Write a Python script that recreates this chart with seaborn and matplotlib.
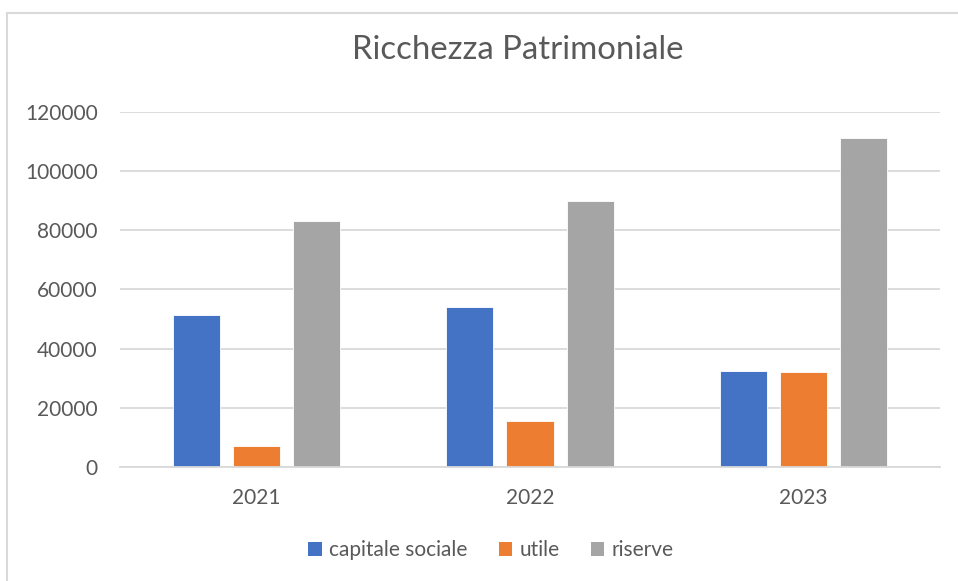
import matplotlib
matplotlib.use("Agg")
import matplotlib.pyplot as plt
import pandas as pd
import seaborn as sns
from matplotlib.lines import Line2D
from matplotlib.patches import Patch

years = ["2021", "2022", "2023"]
series = ["capitale sociale", "utile", "riserve"]
capitale_sociale = [51400, 54000, 32500]
utile = [7100, 15600, 32200]
riserve = [83200, 90100, 111200]
colors = ["#4472C4", "#ED7D31", "#A5A5A5"]

df = pd.DataFrame({
    "anno": years * 3,
    "serie": [s for s in series for _ in years],
    "valore": capitale_sociale + utile + riserve,
})

sns.set_theme(style="white")
plt.rcParams["font.family"] = ["Lato", "DejaVu Sans"]

W, H = 958, 581
fig = plt.figure(figsize=(W / 100, H / 100), dpi=100)
ax = fig.add_axes([120 / W, 1 - 466.7 / H, 820 / W, 354.4 / H])

sns.barplot(data=df, x="anno", y="valore", hue="serie", palette=colors,
            width=0.66, gap=0.218, ax=ax, legend=False, saturation=1,
            edgecolor="white", linewidth=0.6)

ax.set_ylim(0, 120000)
ax.set_xlim(-0.5, 2.5)
ax.set_yticks(range(0, 120001, 20000))
ax.yaxis.grid(True, color="#D9D9D9", linewidth=1.3)
ax.set_axisbelow(True)
for s in ["left", "right", "top"]:
    ax.spines[s].set_visible(False)
ax.spines["bottom"].set_color("#D9D9D9")
ax.spines["bottom"].set_linewidth(1.3)
ax.set_xlabel("")
ax.set_ylabel("")
ax.tick_params(axis="both", length=0, labelsize=15, labelcolor="#595959")
ax.tick_params(axis="y", pad=16)
ax.tick_params(axis="x", pad=15)

fig.text(517.5 / W, 1 - 50 / H, "Ricchezza Patrimoniale", ha="center", va="center",
         fontsize=23.7, color="#595959")

handles = [Patch(facecolor=c, edgecolor="none") for c in colors]
fig.legend(handles, series, loc="center", bbox_to_anchor=(491 / W, 1 - 550 / H),
           ncol=3, frameon=False, fontsize=15, labelcolor="#595959",
           handlelength=0.65, handleheight=0.65, handletextpad=0.35,
           columnspacing=1.5)

# chart frame (only top and left edges visible)
fig.add_artist(Line2D([7 / W, 7 / W], [0, 1 - 13 / H], transform=fig.transFigure,
                      color="#D9D9D9", linewidth=1.5))
fig.add_artist(Line2D([7 / W, 1], [1 - 13 / H, 1 - 13 / H], transform=fig.transFigure,
                      color="#D9D9D9", linewidth=1.5))

fig.savefig("out.png", dpi=100, facecolor="white")
